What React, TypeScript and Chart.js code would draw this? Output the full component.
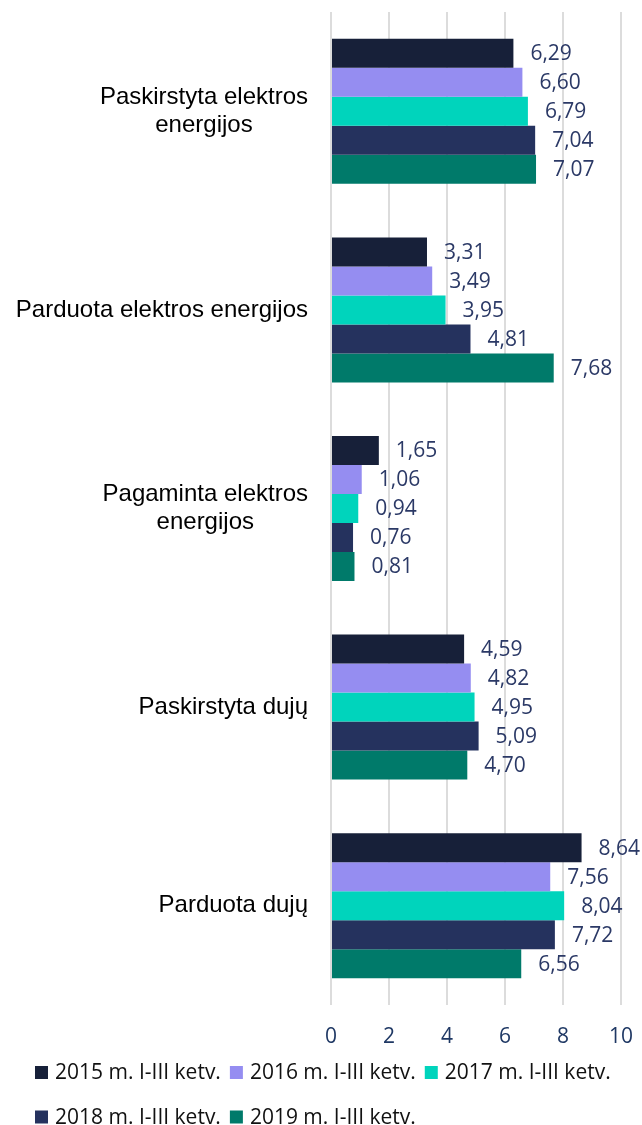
import React, { useEffect, useRef } from "react";
import { Chart, registerables } from "chart.js";

Chart.register(...registerables);

const categories = [
  "Paskirstyta elektros energijos",
  "Parduota elektros energijos",
  "Pagaminta elektros energijos",
  "Paskirstyta dujų",
  "Parduota dujų",
];
const categoryLines = [
  ["Paskirstyta elektros", "energijos"],
  ["Parduota elektros energijos"],
  ["Pagaminta elektros", "energijos"],
  ["Paskirstyta dujų"],
  ["Parduota dujų"],
];
const seriesNames = [
  "2015 m. I-III ketv.",
  "2016 m. I-III ketv.",
  "2017 m. I-III ketv.",
  "2018 m. I-III ketv.",
  "2019 m. I-III ketv.",
];
const values2015 = [6.29, 3.31, 1.65, 4.59, 8.64];
const values2016 = [6.6, 3.49, 1.06, 4.82, 7.56];
const values2017 = [6.79, 3.95, 0.94, 4.95, 8.04];
const values2018 = [7.04, 4.81, 0.76, 5.09, 7.72];
const values2019 = [7.07, 7.68, 0.81, 4.7, 6.56];
const seriesValues = [values2015, values2016, values2017, values2018, values2019];
const seriesColors = ["#172039", "#958DF1", "#00D4BC", "#25325E", "#007A6A"];
const xMin = 0;
const xMax = 10;
const xStep = 2;

const fmt = (v: number) => v.toFixed(2).replace(".", ",");

const valueLabelPlugin = {
  id: "valueLabels",
  afterDatasetsDraw(chart: any) {
    const ctx = chart.ctx;
    ctx.save();
    ctx.font = '21px "Open Sans"';
    ctx.fillStyle = "#2B3966";
    ctx.textAlign = "left";
    ctx.textBaseline = "middle";
    chart.data.datasets.forEach((ds: any, di: number) => {
      const meta = chart.getDatasetMeta(di);
      meta.data.forEach((el: any, i: number) => {
        ctx.fillText(fmt(ds.data[i]), el.x + 17, el.y + 1);
      });
    });
    ctx.restore();
  },
};

const categoryLabelPlugin = {
  id: "categoryLabels",
  afterDraw(chart: any) {
    const ctx = chart.ctx;
    const yScale = chart.scales.y;
    const right = chart.chartArea.left - 23;
    ctx.save();
    ctx.font = '24px "Liberation Sans", Arial, sans-serif';
    ctx.fillStyle = "#000000";
    ctx.textAlign = "center";
    ctx.textBaseline = "middle";
    categoryLines.forEach((lines, i) => {
      const yc = yScale.getPixelForValue(i);
      const maxW = Math.max(...lines.map((l) => ctx.measureText(l).width));
      const cx = right - maxW / 2;
      lines.forEach((line, j) => {
        ctx.fillText(line, cx, yc + (j - (lines.length - 1) / 2) * 28);
      });
    });
    ctx.restore();
  },
};

const legendPlugin = {
  id: "customLegend",
  afterDraw(chart: any) {
    const ctx = chart.ctx;
    ctx.save();
    ctx.font = '21px "Open Sans"';
    ctx.textAlign = "left";
    ctx.textBaseline = "middle";
    const startX = 35;
    const box = 13;
    const gapText = 7;
    const gapItem = 9;
    const rowH = 44.5;
    let x = startX;
    let y = chart.height - 52.5;
    chart.data.datasets.forEach((ds: any, i: number) => {
      const w = box + gapText + ctx.measureText(ds.label).width;
      if (i > 0 && x + w > chart.width - 10) {
        x = startX;
        y += rowH;
      }
      ctx.fillStyle = ds.backgroundColor;
      ctx.fillRect(x, y - box / 2, box, box);
      ctx.fillStyle = "#111111";
      ctx.fillText(ds.label, x + box + gapText, y + 1);
      x += w + gapItem;
    });
    ctx.restore();
  },
};

export default function App() {
  const canvasRef = useRef<HTMLCanvasElement | null>(null);

  useEffect(() => {
    document.body.style.margin = "0";
    const canvas = canvasRef.current;
    if (!canvas) return;
    const chart = new Chart(canvas, {
      type: "bar",
      data: {
        labels: categories,
        datasets: seriesNames.map((name, i) => ({
          label: name,
          data: seriesValues[i],
          backgroundColor: seriesColors[i],
          borderWidth: 0,
          categoryPercentage: 0.73,
          barPercentage: 1.0,
        })),
      },
      options: {
        indexAxis: "y",
        responsive: false,
        animation: false,
        devicePixelRatio: 1,
        layout: { padding: { top: 12, right: 21, bottom: 75, left: 0 } },
        plugins: {
          legend: { display: false },
          tooltip: { enabled: false },
        },
        scales: {
          x: {
            min: xMin,
            max: xMax,
            ticks: {
              stepSize: xStep,
              padding: 19,
              color: "#1F3864",
              font: { family: '"Open Sans"', size: 21 },
            },
            grid: { color: "#DCDCDC", lineWidth: 2, drawTicks: false },
            border: { display: false },
            afterFit: (scale: any) => {
              scale.height = 45;
              scale.paddingLeft = 0;
              scale.paddingRight = 0;
            },
          },
          y: {
            ticks: { display: false },
            grid: { display: false },
            border: { display: false },
            afterFit: (scale: any) => {
              scale.width = 331;
              scale.paddingTop = 0;
              scale.paddingBottom = 0;
            },
          },
        },
      } as any,
      plugins: [valueLabelPlugin, categoryLabelPlugin, legendPlugin],
    });
    return () => chart.destroy();
  }, []);

  return (
    <div style={{ width: 642, height: 1125 }}>
      <canvas ref={canvasRef} width={642} height={1125} style={{ display: "block" }} />
    </div>
  );
}
